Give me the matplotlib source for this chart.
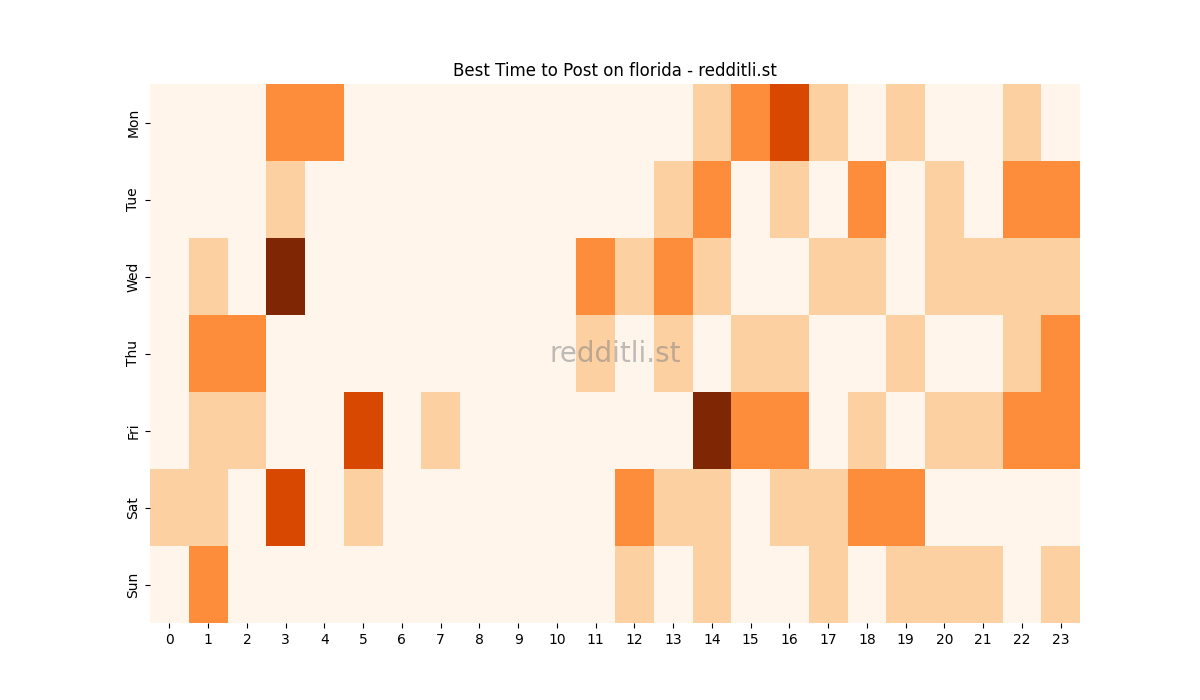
import matplotlib
matplotlib.use("Agg")
import matplotlib.pyplot as plt
import seaborn as sns
import numpy as np

days = ["Mon", "Tue", "Wed", "Thu", "Fri", "Sat", "Sun"]
hours = list(range(24))
mon = [0,0,0,2,2,0,0,0,0,0,0,0,0,0,1,2,3,1,0,1,0,0,1,0]
tue = [0,0,0,1,0,0,0,0,0,0,0,0,0,1,2,0,1,0,2,0,1,0,2,2]
wed = [0,1,0,4,0,0,0,0,0,0,0,2,1,2,1,0,0,1,1,0,1,1,1,1]
thu = [0,2,2,0,0,0,0,0,0,0,0,1,0,1,0,1,1,0,0,1,0,0,1,2]
fri = [0,1,1,0,0,3,0,1,0,0,0,0,0,0,4,2,2,0,1,0,1,1,2,2]
sat = [1,1,0,3,0,1,0,0,0,0,0,0,2,1,1,0,1,1,2,2,0,0,0,0]
sun = [0,2,0,0,0,0,0,0,0,0,0,0,1,0,1,0,0,1,0,1,1,1,0,1]

data = np.array([mon, tue, wed, thu, fri, sat, sun])

fig, ax = plt.subplots(figsize=(12, 7), dpi=100)
sns.heatmap(data, cmap="Oranges", vmin=0, vmax=4, cbar=False, ax=ax,
            xticklabels=hours, yticklabels=days)
ax.set_title("Best Time to Post on florida - redditli.st")
ax.text(0.5, 0.5, "redditli.st", transform=ax.transAxes, ha="center", va="center",
        fontsize=20, color="grey", alpha=0.5)
plt.setp(ax.get_xticklabels(), rotation=0)
fig.savefig("out.png")
